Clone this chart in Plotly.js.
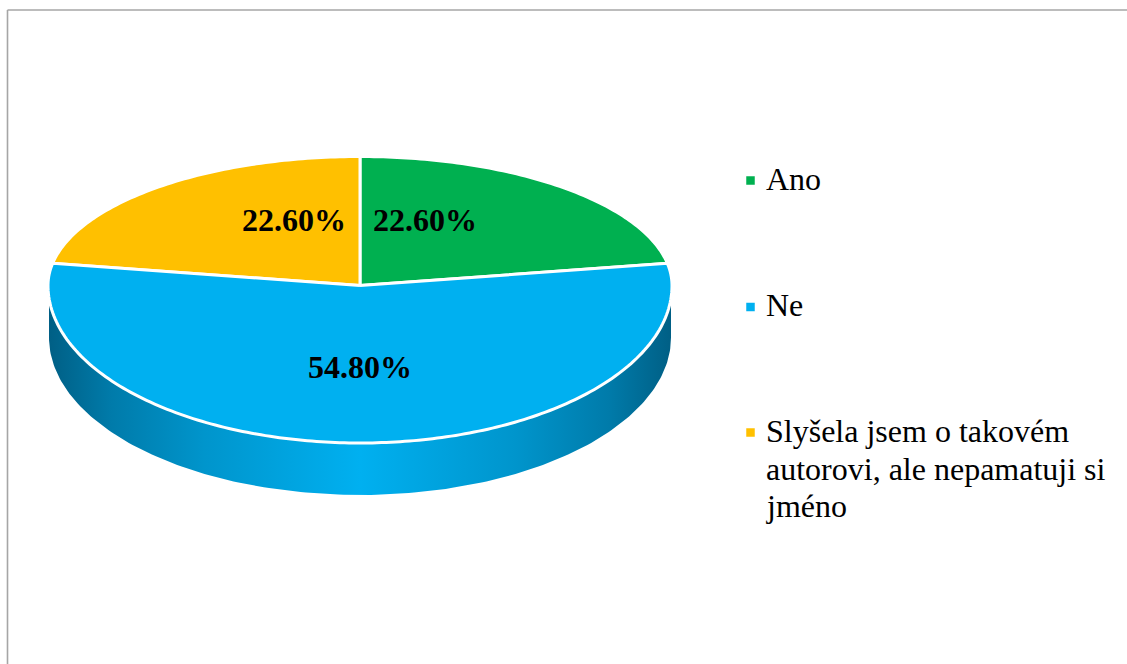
<!DOCTYPE html>
<html>
<head>
<meta charset="utf-8">
<script src="https://cdn.plot.ly/plotly-3.0.1.min.js"></script>
<style>html,body{margin:0;padding:0;background:#fff;overflow:hidden}#chart{width:1127px;height:664px}</style>
</head>
<body>
<div id="chart"></div>
<script>
const categories = ['Ano', 'Ne', 'Slyšela jsem o takovém<br>autorovi, ale nepamatuji si<br>jméno'];
const shares = [22.6, 54.8, 22.6];
const sliceColors = ['#00B050', '#00B0F0', '#FFC000'];

// Projection of the tilted disc onto the page (axes are in page pixels)
const cx = 360, cy = 285.5, rx = 312, rTop = 129, rBottom = 157.5, depth = 52, foreshorten = 4.2;
const labelX = [425, 360, 294], labelY = [221, 368, 221];
const legendMarkerX = 750.5, legendMarkerY = [180.5, 307, 432.5];
const legendTextX = 765.5, legendTextMiddle = [179, 305, 431], legendLinePitch = 37.5;

function rimX(deg, r) { return cx + (r || rx) * Math.sin(deg * Math.PI / 180); }
function rimY(deg) {
  const c = Math.cos(deg * Math.PI / 180);
  return cy - (c > 0 ? rTop : rBottom) * c;
}
function project(deg) { return deg - foreshorten * Math.sin(2 * deg * Math.PI / 180); }
function steps(a, b) {
  const out = [];
  for (let d = a; d < b; d += 1) out.push(d);
  out.push(b);
  return out;
}

const traces = [];

// Side wall: the front half of the rim, pushed down by the depth
const front = steps(90, 270);
const wallX = front.map(d => rimX(d, 311)).concat(front.slice().reverse().map(d => rimX(d, 311)));
const wallY = front.map(d => rimY(d) + depth).concat(front.slice().reverse().map(d => rimY(d)));
traces.push({
  type: 'scatter', mode: 'lines', x: wallX, y: wallY, fill: 'toself',
  line: {width: 0, color: 'rgba(0,0,0,0)'},
  fillgradient: {
    type: 'horizontal', start: cx - 311, stop: cx + 311,
    colorscale: [[0, '#005F85'], [0.1, '#007BAA'], [0.25, '#0095CC'], [0.5, '#00B0F0'],
                 [0.75, '#0095CC'], [0.9, '#007BAA'], [1, '#005F85']]
  },
  hoverinfo: 'skip', showlegend: false
});

// Top face slices, swept clockwise from 12 o'clock by their share
const total = shares.reduce((a, b) => a + b, 0);
let start = 0;
const sliceAngles = shares.map(v => { const s = start; start += v / total * 360; return [s, start]; });
[0, 2, 1].forEach(i => {
  const ds = steps(sliceAngles[i][0], sliceAngles[i][1]).map(project);
  traces.push({
    type: 'scatter', mode: 'lines',
    x: [cx].concat(ds.map(d => rimX(d))).concat([cx]),
    y: [cy].concat(ds.map(d => rimY(d))).concat([cy]),
    fill: 'toself', fillcolor: sliceColors[i],
    line: {color: '#FFFFFF', width: 3, simplify: false},
    name: categories[i], hoverinfo: 'skip', showlegend: false
  });
});

// Data labels
traces.push({
  type: 'scatter', mode: 'text', x: labelX, y: labelY.map(y => y + 2),
  text: shares.map(v => v.toFixed(2) + '%'), textposition: 'middle center',
  textfont: {family: '"Liberation Serif", serif', size: 32, color: '#000000', weight: 700},
  hoverinfo: 'skip', showlegend: false, cliponaxis: false
});

// Legend keys
traces.push({
  type: 'scatter', mode: 'markers',
  x: categories.map(() => legendMarkerX), y: legendMarkerY,
  marker: {symbol: 'square', size: 8.5, color: sliceColors, line: {width: 0}},
  hoverinfo: 'skip', showlegend: false
});

// Legend text: one annotation per line so the line pitch can follow the reference
const legendAnnotations = [];
categories.forEach((c, i) => {
  c.split('<br>').forEach((lineText, j) => {
    legendAnnotations.push({
      xref: 'x', yref: 'y', x: legendTextX, y: legendTextMiddle[i] + j * legendLinePitch,
      xanchor: 'left', yanchor: 'middle', align: 'left', showarrow: false,
      text: lineText, borderpad: 0, borderwidth: 0,
      font: {family: '"Liberation Serif", serif', size: 32, color: '#000000'}
    });
  });
});

const layout = {
  width: 1127, height: 664,
  margin: {l: 0, r: 0, t: 0, b: 0},
  paper_bgcolor: '#FFFFFF', plot_bgcolor: '#FFFFFF',
  showlegend: false,
  xaxis: {range: [0, 1127], visible: false, fixedrange: true},
  yaxis: {range: [664, 0], visible: false, fixedrange: true},
  shapes: [
    {type: 'line', xref: 'x', yref: 'y', x0: 7.5, x1: 1127, y0: 10, y1: 10, line: {color: '#A6A6A6', width: 1.6}},
    {type: 'line', xref: 'x', yref: 'y', x0: 7.5, x1: 7.5, y0: 10, y1: 664, line: {color: '#A6A6A6', width: 1.6}}
  ],
  annotations: legendAnnotations
};

Plotly.newPlot('chart', traces, layout, {displayModeBar: false, staticPlot: true});
</script>
</body>
</html>
